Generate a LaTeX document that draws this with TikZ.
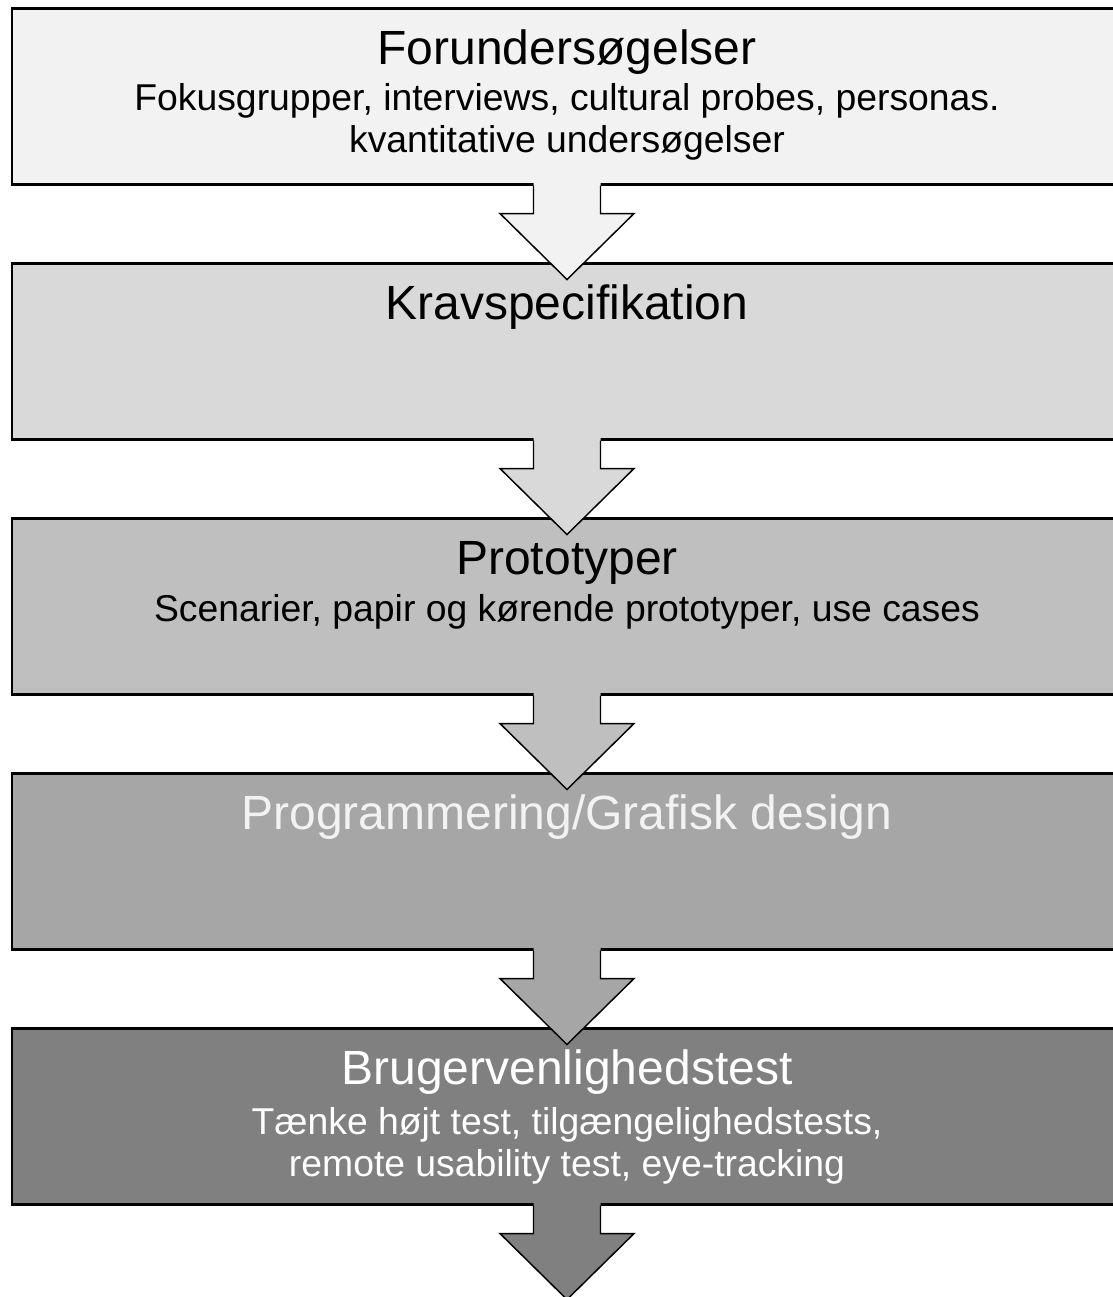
\documentclass[tikz,border=0pt]{standalone}
\usepackage{fontspec}
\setmainfont{Liberation Sans}
\usetikzlibrary{calc}

\definecolor{fase1}{HTML}{F2F2F2}
\definecolor{fase2}{HTML}{D9D9D9}
\definecolor{fase3}{HTML}{BFBFBF}
\definecolor{fase4}{HTML}{A6A6A6}
\definecolor{fase5}{HTML}{808080}

\tikzset{
  fase/.style={draw=black, line width=1.9pt, anchor=north, inner sep=0pt,
    minimum width=832.5pt, minimum height=132pt},
  titel/.style={anchor=base, inner sep=0pt, font=\fontsize{36}{43}\selectfont},
  under/.style={anchor=base, inner sep=0pt, align=center,
    font=\fontsize{28}{31.5}\selectfont},
  pilkant/.style={draw=black, line width=1.1pt, line join=miter}
}

\begin{document}
\begin{tikzpicture}[x=0.75pt,y=-0.75pt]
    \useasboundingbox (0,0) rectangle (1113,1297);
    \clip (0,0) rectangle (1113,1297);
    % faser
    \node[fase, fill=fase1] (forund) at (567,7) {};
    \node[fase, fill=fase2] (krav) at (567,262) {};
    \node[fase, fill=fase3] (proto) at (567,517) {};
    \node[fase, fill=fase4] (prog) at (567,772) {};
    \node[fase, fill=fase5] (test) at (567,1027) {};
    % tekster
    \node[titel] (forundT) at (567,64) {Forundersøgelser};
    \node[under] (forundU) at (567,152) {Fokusgrupper, interviews, cultural probes, personas.\\kvantitative undersøgelser};
    \node[titel] (kravT) at (567,319) {Kravspecifikation};
    \node[titel] (protoT) at (567,574) {Prototyper};
    \node[under] (protoU) at (567,621) {Scenarier, papir og kørende prototyper, use cases};
    \node[titel, text=fase1] (progT) at (567,829) {Programmering/Grafisk design};
    \node[titel, text=white] (testT) at (567,1084) {Brugervenlighedstest};
    \node[under, text=white] (testU) at (567,1176) {Tænke højt test, tilgængelighedstests,\\remote usability test, eye-tracking};
    % pile
    \foreach \fra/\farve in {forund/fase1, krav/fase2, proto/fase3, prog/fase4, test/fase5} {
        \coordinate (s) at (\fra.south);
        \fill[\farve] ($(s)+(-33.5,-3)$) -- ($(s)+(-33.5,28)$) -- ($(s)+(-67,28)$)
            -- ($(s)+(0,94)$) -- ($(s)+(67,28)$) -- ($(s)+(33.5,28)$) -- ($(s)+(33.5,-3)$) -- cycle;
        \draw[pilkant] ($(s)+(-33.5,0)$) -- ($(s)+(-33.5,28)$) -- ($(s)+(-67,28)$)
            -- ($(s)+(0,94)$) -- ($(s)+(67,28)$) -- ($(s)+(33.5,28)$) -- ($(s)+(33.5,0)$);
    }
\end{tikzpicture}
\end{document}
